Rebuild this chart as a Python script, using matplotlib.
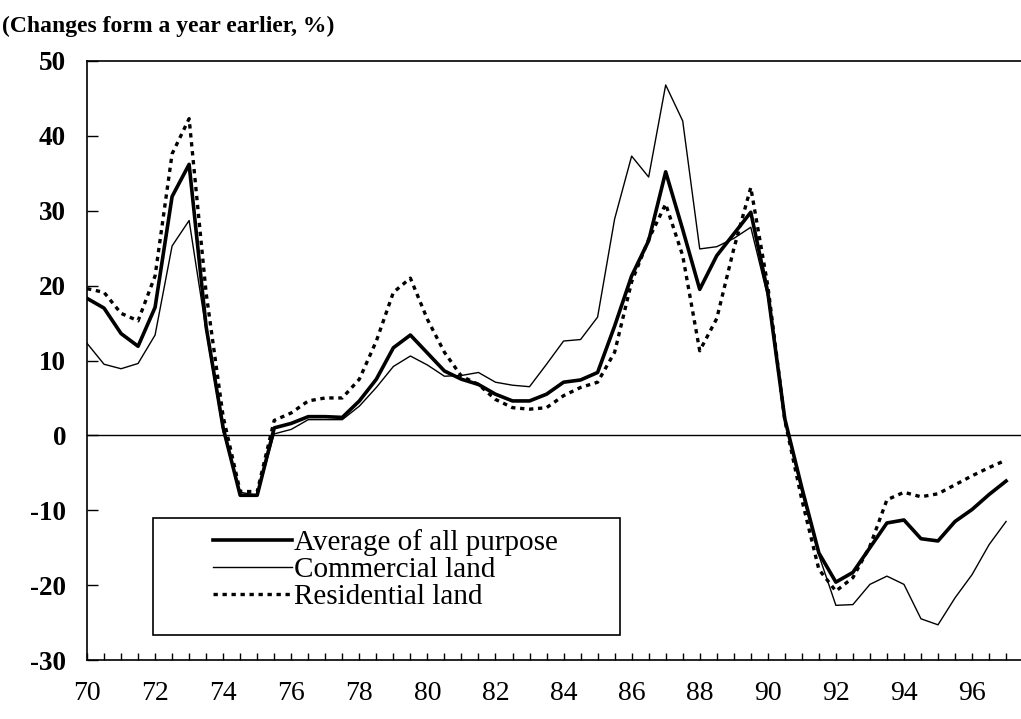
import numpy as np
import matplotlib
matplotlib.use("Agg")
import matplotlib.pyplot as plt
from matplotlib.patches import Rectangle

plt.rcParams["font.family"] = ["Liberation Serif", "DejaVu Serif"]

# half-yearly observations, 1970 - 1997
years = np.arange(70, 97.01, 0.5)

average = [18.3, 17.0, 13.6, 11.9, 17.1, 31.9, 36.2, 14.5, 1.0, -8.0,
           -8.0, 1.0, 1.6, 2.5, 2.5, 2.4, 4.6, 7.5, 11.7, 13.4,
           11.0, 8.6, 7.5, 6.8, 5.5, 4.6, 4.6, 5.5, 7.1, 7.4,
           8.4, 14.6, 21.3, 26.0, 35.2, 27.5, 19.5, 24.0, 26.9, 29.8,
           19.1, 2.2, -7.0, -15.7, -19.6, -18.3, -15.0, -11.7, -11.3, -13.8,
           -14.1, -11.5, -9.9, -7.9, -6.1]

commercial = [12.3, 9.5, 8.9, 9.6, 13.4, 25.3, 28.7, 14.0, 0.5, -7.6,
              -8.0, 0.2, 0.8, 2.1, 2.1, 2.1, 3.9, 6.4, 9.2, 10.6,
              9.4, 7.9, 8.0, 8.4, 7.1, 6.7, 6.5, 9.5, 12.6, 12.8,
              15.8, 28.9, 37.3, 34.5, 46.8, 42.0, 24.9, 25.2, 26.3, 27.8,
              18.5, 2.0, -7.5, -16.0, -22.7, -22.6, -19.9, -18.8, -19.9, -24.5,
              -25.3, -21.7, -18.6, -14.6, -11.5]

residential = [19.6, 19.1, 16.3, 15.3, 21.3, 37.6, 42.3, 19.0, 2.5, -7.5,
               -7.5, 2.0, 3.0, 4.6, 5.0, 5.0, 7.5, 12.6, 19.1, 21.0,
               15.5, 11.1, 7.9, 6.8, 4.8, 3.7, 3.5, 3.7, 5.3, 6.4,
               7.1, 11.1, 20.5, 26.2, 30.9, 24.0, 11.3, 15.6, 24.9, 33.1,
               20.0, 2.0, -8.6, -17.9, -20.8, -19.0, -14.8, -8.6, -7.6, -8.2,
               -7.8, -6.6, -5.4, -4.3, -3.3]

labels = ["Average of all purpose", "Commercial land", "Residential land"]
xticks = list(range(70, 97, 2))
xticklabels = [str(y) for y in xticks]
yticks = list(range(-30, 51, 10))

W, H = 1021, 719
fig = plt.figure(figsize=(W / 100, H / 100), dpi=100)
ax = fig.add_axes([87 / W, 1 - 660 / H, 1 - 87 / W, (660 - 61) / H])

ax.axhline(0, color="black", lw=1.0, zorder=1)
ax.plot(years, average, color="black", lw=2.6, label=labels[0], zorder=3)
ax.plot(years, commercial, color="black", lw=1.0, label=labels[1], zorder=2)
ax.plot(years, residential, color="black", lw=2.4, linestyle=(0, (1.3, 1.4)),
        label=labels[2], zorder=2)

ax.set_xlim(70, 70 + (W - 87) / 34.04)
ax.set_ylim(-30, 50)

for side in ("left", "bottom", "top"):
    ax.spines[side].set_linewidth(1.2)
ax.spines["right"].set_visible(False)

ax.set_yticks(yticks)
ax.set_yticklabels([str(v) for v in yticks], fontsize=19.5, fontweight="bold")
ax.tick_params(axis="y", direction="in", length=8, width=1.0, pad=15)

ax.set_xticks(xticks)
ax.set_xticklabels(xticklabels, fontsize=20)
ax.set_xticks(np.arange(70.5, 97.01, 0.5), minor=True)
ax.tick_params(axis="x", which="both", direction="in", length=5, width=1.0, pad=15)
ax.tick_params(axis="x", which="minor", labelbottom=False)

leg = ax.legend(loc="upper left", bbox_to_anchor=(213 / W, 1 - 529 / H),
                bbox_transform=fig.transFigure, frameon=False, fontsize=21,
                borderpad=0, borderaxespad=0, handlelength=2.7,
                handletextpad=0.08, labelspacing=0.02)
fig.patches.append(Rectangle((153 / W, 1 - 635 / H), 467 / W, 117 / H,
                             transform=fig.transFigure, fill=False,
                             edgecolor="black", lw=1.2, zorder=5))

fig.text(2 / W, 1 - 32 / H, "(Changes form a year earlier, %)", fontsize=17,
         fontweight="bold", ha="left", va="baseline")

fig.savefig("out.png", dpi=100)
